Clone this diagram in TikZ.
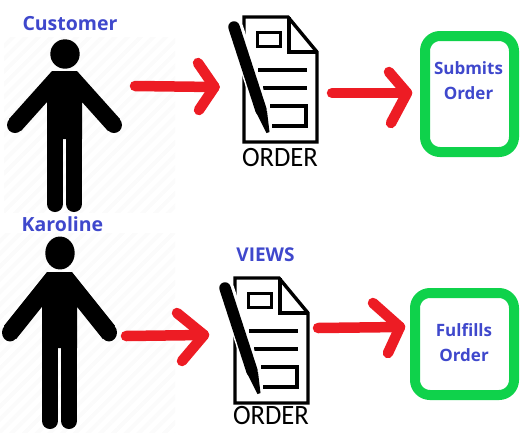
\documentclass[tikz,border=0pt]{standalone}
\usepackage{fontspec}
\setmainfont{Open Sans}
\newfontfamily\orderfont{Carlito}
\usetikzlibrary{positioning,patterns.meta}
\definecolor{labelblue}{HTML}{3F48CC}
\definecolor{arrowred}{HTML}{ED1C24}
\definecolor{boxgreen}{HTML}{0FD24B}
\tikzset{
  bluetext/.style={text=labelblue,font=\bfseries\fontsize{17}{25.5}\selectfont,align=center,inner sep=0pt},
  nametext/.style={bluetext,font=\bfseries\fontsize{19.5}{24}\selectfont},
  ordertext/.style={font=\orderfont\fontsize{28}{28}\selectfont,xscale=.95,inner sep=0pt},
  greenbox/.style={draw=boxgreen,line width=10pt,rounded corners=15pt,inner sep=0pt},
  redline/.style={draw=arrowred,line width=10.5pt,line cap=round,line join=round},
  stripes/.style={pattern={Lines[angle=45,distance=9pt,line width=4pt]},pattern color=black!1.5},
  limb/.style={line width=16pt,line cap=round},
  person/.pic={
    \fill[black] (0,0) circle [radius=14.7];
    \fill[black] (-50,71) circle [radius=8] (49,71) circle [radius=8];
    \fill[black] (-13,17) -- (12,17) -- (55,65) -- (43,77) -- (17,48) -- (17,85) -- (-18,85) -- (-18,48) -- (-44,77) -- (-56,65) -- cycle;
    \draw[limb] (-10,70) -- (-10,150);
    \draw[limb] (9,70) -- (9,150);
  },
  orderdoc/.pic={
    % sheet, top left corner at the origin
    \draw[line width=3.4pt,line join=miter] (0,0) -- (44,0) -- (73,35) -- (73,125) -- (0,125) -- cycle;
    \draw[line width=3.4pt] (45,0) -- (45,35) -- (73,35);
    \draw[line width=3pt] (13,15) rectangle (36,29);
    \draw[line width=3.4pt] (14,53) -- (63,53);
    \draw[line width=3.4pt] (19,71) -- (63,71);
    \draw[line width=3.4pt] (26,89) -- (62,89) -- (62,109) -- (28,109);
    % pen, with a white edge over the sheet
    \draw[white,line width=16pt] (-9,10) -- (18,94);
    \draw[line width=11.5pt,line cap=round] (-10,10) -- (17,93);
    \fill[black,line join=round] (11.5,94) -- (23,94) -- (25.5,115) -- (22.5,116) -- cycle;
  },
}
\begin{document}
\begin{tikzpicture}[x=1pt,y=-1pt]
  \useasboundingbox (0,0) rectangle (520,432);
  \fill[stripes] (4,37) rectangle (175,212);
  \fill[stripes] (0,233) rectangle (175,432);

  \node[nametext] (customer) at (70,24) {Customer};
  \node[nametext] (karoline) at (62.5,224) {Karoline};
  \node[bluetext,font=\bfseries\fontsize{19}{24}\selectfont] (views) at (265.5,255) {VIEWS};

  \pic at (65,54) {person};
  \pic[yscale=1.12] at (60,253) {person};
  \pic at (244,17) {orderdoc};
  \pic at (235,278) {orderdoc};

  \node[ordertext] (ordera) at (280,158) {ORDER};
  \node[ordertext] (orderb) at (271,416) {ORDER};

  \node[greenbox,minimum width=89pt,minimum height=116pt] (submitbox) at (469.5,94) {};
  \node[greenbox,minimum width=99pt,minimum height=102pt] (fulfilbox) at (464.5,344) {};
  \node[bluetext] (submittext) at (468.5,80.5) {Submits\\Order};
  \node[bluetext] (fulfiltext) at (464,342.5) {Fulfills\\Order};

  \coordinate (customerout) at (135,86);
  \coordinate (docatip) at (214.5,87);
  \coordinate (docatop) at (198,63);
  \coordinate (docabot) at (199,110);
  \coordinate (docaout) at (332,93);
  \coordinate (submittip) at (407,93);
  \coordinate (submittop) at (389,72);
  \coordinate (submitbot) at (391,123);
  \coordinate (karolineout) at (126,336);
  \coordinate (docbtip) at (204,335);
  \coordinate (docbtop) at (177,313);
  \coordinate (docbbot) at (182,361);
  \coordinate (docbout) at (318,328);
  \coordinate (fulfiltip) at (400,327);
  \coordinate (fulfiltop) at (373,303);
  \coordinate (fulfilbot) at (388,353);

  \draw[redline] (customerout) -- (docatip);
  \draw[redline] (docatop) -- (docatip) -- (docabot);
  \draw[redline] (docaout) -- (submittip);
  \draw[redline] (submittop) -- (submittip) -- (submitbot);
  \draw[redline] (karolineout) -- (docbtip);
  \draw[redline] (docbtop) -- (docbtip) -- (docbbot);
  \draw[redline] (docbout) -- (fulfiltip);
  \draw[redline] (fulfiltop) -- (fulfiltip) -- (fulfilbot);
\end{tikzpicture}
\end{document}
